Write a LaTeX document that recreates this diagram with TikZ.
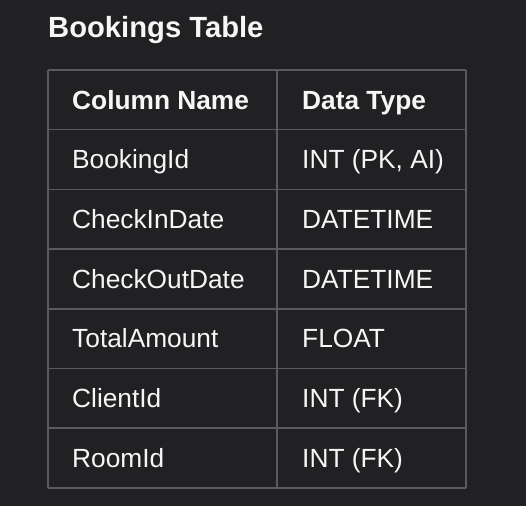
\documentclass[tikz,border=0pt]{standalone}
\usepackage{fontspec}
\setmainfont{Liberation Sans}
\usetikzlibrary{calc}
\definecolor{bgdark}{RGB}{33,33,36}
\definecolor{gridgray}{RGB}{90,90,93}
\definecolor{textwhite}{RGB}{246,246,246}

\tikzset{
    cell/.style={anchor=base west, inner sep=0pt, text=textwhite, font=\fontsize{26.3}{31}\selectfont},
    headcell/.style={cell, font=\fontsize{26.3}{31}\selectfont\bfseries},
    gridline/.style={line width=1.5pt, draw=gridgray},
}

\begin{document}
\begin{tikzpicture}[x=1pt, y=-1pt]
    \fill[bgdark] (0,0) rectangle (526,506);
    \useasboundingbox (0,0) rectangle (526,506);
    \node[cell, font=\fontsize{29.2}{35}\selectfont\bfseries] (title) at (48, 37) {Bookings Table};

    \foreach \r in {0,...,7}{
        \draw[gridline](48, 70+59.7*\r) -- (466, 70+59.7*\r);
    }
    \foreach \x in {48,277,466}{
        \draw[gridline](\x, 70) -- (\x, 488);
    }

    \node[headcell] (colname0) at (72, 70+59.7*0.5+9.3) {Column Name};
    \node[headcell] (coltype0) at (302, 70+59.7*0.5+9.3) {Data Type};
    \foreach \c/\t [count=\i] in {BookingId/{INT (PK, AI)}, CheckInDate/DATETIME, CheckOutDate/DATETIME, TotalAmount/FLOAT, ClientId/{INT (FK)}, RoomId/{INT (FK)}}{
        \node[cell] (colname\i) at (72, 70+59.7*\i+59.7*0.5+9.3) {\c};
        \node[cell] (coltype\i) at (302, 70+59.7*\i+59.7*0.5+9.3) {\t};
    }
\end{tikzpicture}
\end{document}
